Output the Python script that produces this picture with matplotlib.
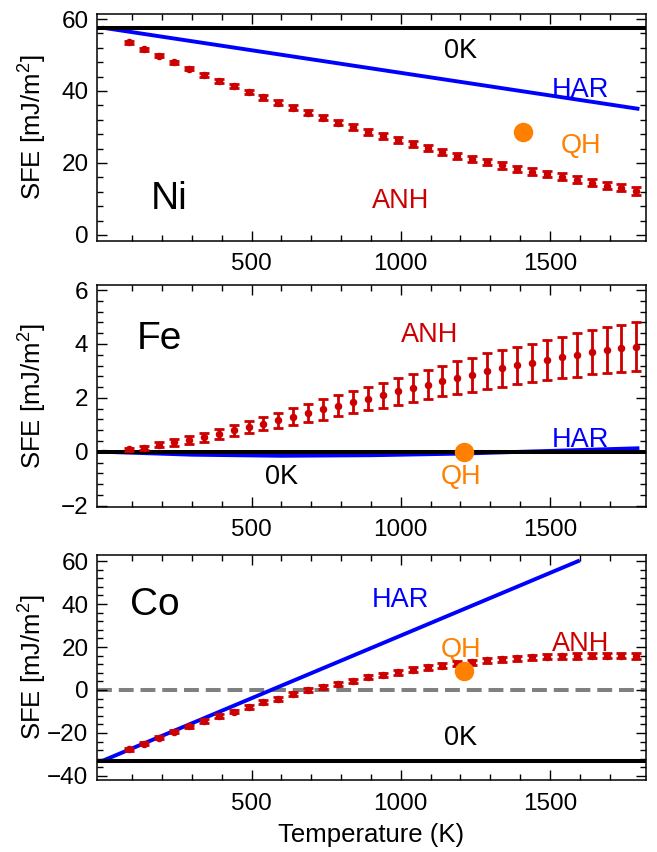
# -*- coding: utf-8 -*-

# 三个面板：Ni, Fe, Co 的层错能随温度变化
import matplotlib.pyplot as plt
from matplotlib.ticker import FixedLocator, MultipleLocator

# Helvetica 风格字体
plt.rcParams['font.family'] = ['Liberation Sans', 'DejaVu Sans']
plt.rcParams['mathtext.fontset'] = 'custom'
plt.rcParams['mathtext.rm'] = 'Liberation Sans'
plt.rcParams['mathtext.default'] = 'regular'

# 颜色
RED = '#cc0000'
BLUE = '#0000ff'
ORANGE = '#ff8000'

# 非谐 (ANH) 数据点的温度
T_anh = [90, 140, 190, 240, 290, 340, 390, 440, 490, 540, 590, 640, 690,
         740, 790, 840, 890, 940, 990, 1040, 1090, 1140, 1190, 1240, 1290,
         1340, 1390, 1440, 1490, 1540, 1590, 1640, 1690, 1740, 1790]

# ---- Ni ----
ni_0k = 57.4
ni_har_T = [0, 1800]
ni_har = [57.6, 35.0]
ni_anh = [53.5, 51.6, 49.8, 48.0, 46.2, 44.5, 42.9, 41.3, 39.7, 38.2, 36.8,
          35.4, 33.9, 32.6, 31.2, 30.0, 28.6, 27.5, 26.4, 25.3, 24.2, 23.1,
          22.0, 21.1, 20.2, 19.3, 18.3, 17.6, 16.9, 16.2, 15.3, 14.5, 13.7,
          13.1, 12.2]
ni_err = [0.4, 0.4, 0.45, 0.45, 0.5, 0.5, 0.55, 0.55, 0.6, 0.6, 0.65, 0.65,
          0.7, 0.7, 0.7, 0.75, 0.75, 0.75, 0.8, 0.8, 0.8, 0.85, 0.85, 0.85,
          0.85, 0.9, 0.9, 0.9, 0.9, 0.95, 0.95, 0.95, 1.0, 1.0, 1.0]
ni_qh = (1410, 28.5)

# ---- Fe ----
fe_0k = 0.0
fe_har_T = [0, 300, 600, 900, 1200, 1500, 1800]
fe_har = [0.0, -0.11, -0.15, -0.13, -0.07, 0.03, 0.13]
fe_anh = [0.09, 0.15, 0.26, 0.35, 0.43, 0.53, 0.66, 0.79, 0.92, 1.04, 1.16,
          1.30, 1.44, 1.57, 1.70, 1.83, 1.97, 2.09, 2.24, 2.36, 2.49, 2.62,
          2.74, 2.86, 3.00, 3.09, 3.21, 3.30, 3.40, 3.50, 3.59, 3.69, 3.77,
          3.84, 3.89]
fe_err = [0.06, 0.08, 0.09, 0.12, 0.14, 0.16, 0.19, 0.20, 0.23, 0.25, 0.28,
          0.32, 0.33, 0.38, 0.39, 0.41, 0.43, 0.46, 0.49, 0.51, 0.53, 0.56,
          0.61, 0.63, 0.66, 0.67, 0.68, 0.71, 0.75, 0.77, 0.80, 0.82, 0.85,
          0.88, 0.91]
fe_qh = (1212, 0.0)

# ---- Co ----
co_0k = -32.9
co_har_T = [0, 1600]
co_har = [-33.0, 60.3]
co_anh = [-27.6, -25.0, -22.2, -19.5, -16.9, -14.4, -12.2, -10.1, -7.8, -5.7,
          -4.0, -2.0, -0.2, 1.4, 2.9, 4.3, 5.9, 7.1, 8.2, 9.5, 10.5, 11.3,
          12.2, 13.0, 13.8, 14.3, 14.7, 15.2, 15.5, 15.7, 15.8, 16.0, 16.0,
          16.0, 15.8]
co_err = [0.7, 0.7, 0.7, 0.75, 0.75, 0.8, 0.8, 0.8, 0.85, 0.85, 0.9, 0.9,
          0.9, 0.95, 0.95, 1.0, 1.0, 1.0, 1.05, 1.05, 1.1, 1.1, 1.1, 1.15,
          1.15, 1.2, 1.2, 1.2, 1.25, 1.25, 1.25, 1.3, 1.3, 1.3, 1.3]
co_qh = (1212, 9.0)


# 设置坐标框、刻度
def setup_frame(ax, ylim, yticks, yminor):
    ax.set_xlim(-19, 1822)
    ax.set_ylim(*ylim)
    ax.xaxis.set_major_locator(FixedLocator([500, 1000, 1500]))
    ax.xaxis.set_minor_locator(FixedLocator(
        [t for t in range(100, 1800, 100) if t % 500 != 0]))
    ax.yaxis.set_major_locator(FixedLocator(yticks))
    ax.yaxis.set_minor_locator(MultipleLocator(yminor))
    ax.tick_params(which='both', direction='in', top=True, right=True,
                   width=1.0, colors='black', labelsize=17.5)
    ax.tick_params(which='major', length=7.5)
    ax.tick_params(which='minor', length=4.5)
    ax.tick_params(axis='x', pad=9)
    ax.tick_params(axis='y', pad=6)
    for s in ax.spines.values():
        s.set_linewidth(1.1)
    ax.text(-0.116, 0.5, 'SFE [mJ/m$^2$]', transform=ax.transAxes,
            rotation=90, ha='center', va='center', fontsize=18.5)


# 画一个面板的曲线
def draw_curves(ax, zero_k, har_T, har, anh, err, qh):
    ax.plot(har_T, har, color=BLUE, lw=2.8, solid_capstyle='butt', zorder=2)
    ax.axhline(zero_k, color='black', lw=2.9, zorder=3)
    ax.errorbar(T_anh, anh, yerr=err, fmt='o', color=RED, ms=4.4,
                elinewidth=2.0, capsize=3.8, capthick=2.0, zorder=4)
    ax.plot([qh[0]], [qh[1]], 'o', color=ORANGE, ms=13, zorder=5)


def label(ax, s, x, y, color, size=19.5):
    ax.text(x, y, s, color=color, fontsize=size, ha='center',
            va='center_baseline')


fig = plt.figure(figsize=(6.57, 8.52), dpi=100)
left, width = 0.1472, 0.836
ax1 = fig.add_axes([left, 0.7175, width, 0.2661])
ax2 = fig.add_axes([left, 0.4053, width, 0.2602])
ax3 = fig.add_axes([left, 0.0845, width, 0.2640])

# Ni
setup_frame(ax1, (-1.6, 61.4), [0, 20, 40, 60], 4)
draw_curves(ax1, ni_0k, ni_har_T, ni_har, ni_anh, ni_err, ni_qh)
label(ax1, 'Ni', 223, 11.2, 'black', 28)
label(ax1, '0K', 1200, 52.0, 'black')
label(ax1, 'HAR', 1602, 41.1, BLUE)
label(ax1, 'QH', 1604, 25.5, ORANGE)
label(ax1, 'ANH', 1000, 10.2, RED)

# Fe
setup_frame(ax2, (-2.04, 6.19), [-2, 0, 2, 4, 6], 0.4)
draw_curves(ax2, fe_0k, fe_har_T, fe_har, fe_anh, fe_err, fe_qh)
label(ax2, 'Fe', 192, 4.33, 'black', 28)
label(ax2, 'ANH', 1098, 4.44, RED)
label(ax2, 'HAR', 1602, 0.53, BLUE)
label(ax2, '0K', 600, -0.84, 'black')
label(ax2, 'QH', 1201, -0.84, ORANGE)

# Co
setup_frame(ax3, (-41.9, 62.8), [-40, -20, 0, 20, 40, 60], 4)
ax3.axhline(0, color='#808080', lw=2.9, dashes=(3.7, 1.7), zorder=1)
draw_curves(ax3, co_0k, co_har_T, co_har, co_anh, co_err, co_qh)
label(ax3, 'Co', 175, 41.5, 'black', 28)
label(ax3, 'HAR', 1000, 43.4, BLUE)
label(ax3, 'QH', 1201, 20.1, ORANGE)
label(ax3, 'ANH', 1602, 22.8, RED)
label(ax3, '0K', 1202, -20.9, 'black')
ax3.set_xlabel('Temperature (K)', fontsize=18.5, labelpad=6)

fig.savefig('out.png', dpi=100)
